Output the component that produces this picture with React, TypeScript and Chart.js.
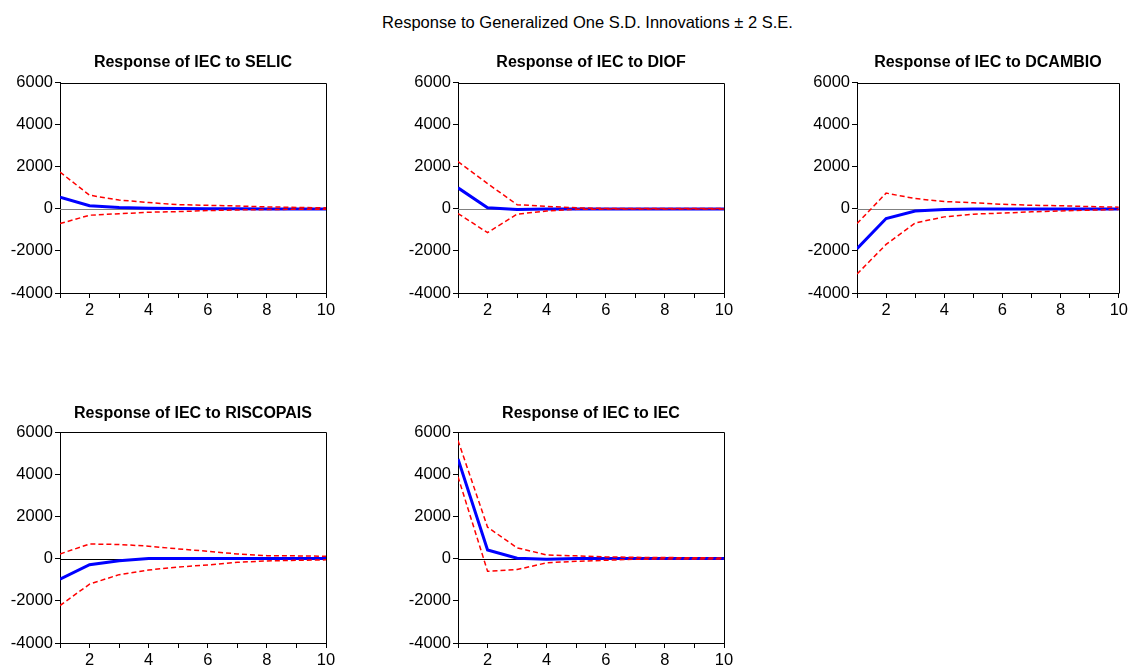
import React, { useEffect, useRef } from "react";
import { Chart, registerables } from "chart.js";

Chart.register(...registerables);

const periods = [1, 2, 3, 4, 5, 6, 7, 8, 9, 10];

const selicIrf = [560, 150, 60, 30, 20, 10, 5, 0, 0, 0];
const selicHi = [1750, 650, 420, 300, 200, 170, 140, 95, 70, 50];
const selicLo = [-700, -300, -230, -160, -130, -80, -50, -30, -20, -15];

const diofIrf = [1000, 50, -30, 0, 0, 0, 0, 0, 0, 0];
const diofHi = [2250, 1200, 200, 120, 50, 20, 20, 20, 20, 20];
const diofLo = [-220, -1130, -250, -100, -20, -10, -10, -10, -10, -10];

const dcambioIrf = [-1890, -460, -100, -30, -10, 0, 0, 0, 0, 0];
const dcambioHi = [-700, 750, 490, 350, 290, 220, 170, 150, 110, 80];
const dcambioLo = [-3100, -1690, -670, -380, -250, -200, -140, -100, -60, -30];

const riscoIrf = [-980, -290, -100, 0, 0, 0, 0, 0, 0, 0];
const riscoHi = [220, 690, 670, 590, 460, 350, 220, 140, 130, 110];
const riscoLo = [-2225, -1210, -760, -540, -400, -300, -175, -110, -80, -60];

const iecIrf = [4720, 410, 20, -30, 0, 10, 10, 10, 10, 10];
const iecHi = [5600, 1490, 510, 175, 130, 80, 60, 50, 40, 30];
const iecLo = [3880, -600, -520, -200, -130, -80, -30, -20, -20, -20];

const yTicks = [-4000, -2000, 0, 2000, 4000, 6000];

const mainTitle = "Response to Generalized One S.D. Innovations \u00b1 2 S.E.";

type Panel = {
  title: string;
  irf: number[];
  hi: number[];
  lo: number[];
  left: number;
  top: number;
  width: number;
  height: number;
  padTop: number;
  titlePadBottom: number;
  padRight: number;
  padBottom: number;
  zeroColor: string;
};

const panels: Panel[] = [
  { title: "Response of IEC to SELIC", irf: selicIrf, hi: selicHi, lo: selicLo, left: 0, top: 40, width: 340, height: 280, padTop: 12.6, titlePadBottom: 10.9, padRight: 14, padBottom: 5, zeroColor: "#808080" },
  { title: "Response of IEC to DIOF", irf: diofIrf, hi: diofHi, lo: diofLo, left: 398, top: 40, width: 340, height: 280, padTop: 12.6, titlePadBottom: 10.9, padRight: 14, padBottom: 5, zeroColor: "#808080" },
  { title: "Response of IEC to DCAMBIO", irf: dcambioIrf, hi: dcambioHi, lo: dcambioLo, left: 797, top: 40, width: 334, height: 280, padTop: 12.6, titlePadBottom: 10.9, padRight: 8, padBottom: 5, zeroColor: "#808080" },
  { title: "Response of IEC to RISCOPAIS", irf: riscoIrf, hi: riscoHi, lo: riscoLo, left: 0, top: 395, width: 340, height: 271, padTop: 8.6, titlePadBottom: 9.2, padRight: 14, padBottom: 1, zeroColor: "#000000" },
  { title: "Response of IEC to IEC", irf: iecIrf, hi: iecHi, lo: iecLo, left: 398, top: 395, width: 340, height: 271, padTop: 8.6, titlePadBottom: 9.2, padRight: 14, padBottom: 1, zeroColor: "#000000" },
];

const FONT = "'Liberation Sans', Arial, sans-serif";

function PanelChart({ p }: { p: Panel }) {
  const ref = useRef<HTMLCanvasElement | null>(null);
  useEffect(() => {
    if (!ref.current) return;
    const toXY = (vals: number[]) => periods.map((x, i) => ({ x, y: vals[i] }));
    const framePlugin = {
      id: "frame",
      beforeDatasetsDraw(chart: any) {
        const { ctx, chartArea, scales } = chart;
        const y0 = scales.y.getPixelForValue(0);
        ctx.save();
        ctx.strokeStyle = p.zeroColor;
        ctx.lineWidth = 1;
        ctx.beginPath();
        ctx.moveTo(chartArea.left, Math.round(y0) + 0.5);
        ctx.lineTo(chartArea.right, Math.round(y0) + 0.5);
        ctx.stroke();
        ctx.restore();
      },
      afterDraw(chart: any) {
        const { ctx, chartArea } = chart;
        ctx.save();
        ctx.strokeStyle = "#000";
        ctx.lineWidth = 1;
        ctx.beginPath();
        ctx.moveTo(Math.round(chartArea.left) + 0.5, Math.round(chartArea.top) + 0.5);
        ctx.lineTo(Math.round(chartArea.right) + 0.5, Math.round(chartArea.top) + 0.5);
        ctx.lineTo(Math.round(chartArea.right) + 0.5, Math.round(chartArea.bottom) + 0.5);
        ctx.stroke();
        ctx.restore();
      },
    };
    const chart = new Chart(ref.current, {
      type: "line",
      data: {
        datasets: [
          { label: "Upper", data: toXY(p.hi), borderColor: "#ff0000", borderWidth: 1.5, borderDash: [5, 3], pointRadius: 0, fill: false, tension: 0 },
          { label: "Lower", data: toXY(p.lo), borderColor: "#ff0000", borderWidth: 1.5, borderDash: [5, 3], pointRadius: 0, fill: false, tension: 0 },
          { label: "Response", data: toXY(p.irf), borderColor: "#0000ff", borderWidth: 3, pointRadius: 0, fill: false, tension: 0 },
        ],
      },
      options: {
        animation: false,
        responsive: false,
        maintainAspectRatio: false,
        layout: { padding: { top: p.padTop, left: 0, right: p.padRight, bottom: p.padBottom } },
        plugins: {
          legend: { display: false },
          tooltip: { enabled: false },
          title: {
            display: true,
            fullSize: false,
            text: p.title,
            color: "#000",
            font: { family: FONT, size: 16, weight: "bold", lineHeight: 1.2 },
            padding: { top: 0, bottom: p.titlePadBottom },
          },
        },
        scales: {
          x: {
            type: "linear",
            min: 1,
            max: 10,
            afterFit: (s: any) => { s.height = 22; },
            afterBuildTicks: (s: any) => { s.ticks = periods.map((v) => ({ value: v })); },
            ticks: {
              autoSkip: false,
              maxRotation: 0,
              padding: 3,
              color: "#000",
              font: { family: FONT, size: 16.5 },
              callback: (v: any) => (Number(v) % 2 === 0 ? String(v) : ""),
            },
            grid: { display: true, drawOnChartArea: false, drawTicks: true, tickLength: 5, color: "#000", lineWidth: 1 },
            border: { display: true, color: "#000", width: 1 },
          },
          y: {
            type: "linear",
            min: -4000,
            max: 6000,
            afterFit: (s: any) => { s.width = 60; },
            afterBuildTicks: (s: any) => { s.ticks = yTicks.map((v) => ({ value: v })); },
            ticks: {
              padding: 2,
              color: "#000",
              font: { family: FONT, size: 16.5 },
              callback: (v: any) => String(v),
            },
            grid: { display: true, drawOnChartArea: false, drawTicks: true, tickLength: 5, color: "#000", lineWidth: 1 },
            border: { display: true, color: "#000", width: 1 },
          },
        },
      },
      plugins: [framePlugin],
    });
    return () => chart.destroy();
  }, [p]);
  return (
    <canvas
      ref={ref}
      width={p.width}
      height={p.height}
      style={{ position: "absolute", left: p.left, top: p.top, width: p.width, height: p.height }}
    />
  );
}

export default function App() {
  return (
    <div style={{ position: "fixed", left: 0, top: 0, width: 1131, height: 666, background: "#fff", overflow: "hidden" }}>
      <div
        style={{
          position: "absolute",
          left: 0,
          width: 1175,
          top: 12,
          textAlign: "center",
          fontFamily: FONT,
          fontSize: 16.5,
          lineHeight: "20px",
          color: "#000",
        }}
      >
        {mainTitle}
      </div>
      {panels.map((p) => (
        <PanelChart key={p.title} p={p} />
      ))}
    </div>
  );
}
